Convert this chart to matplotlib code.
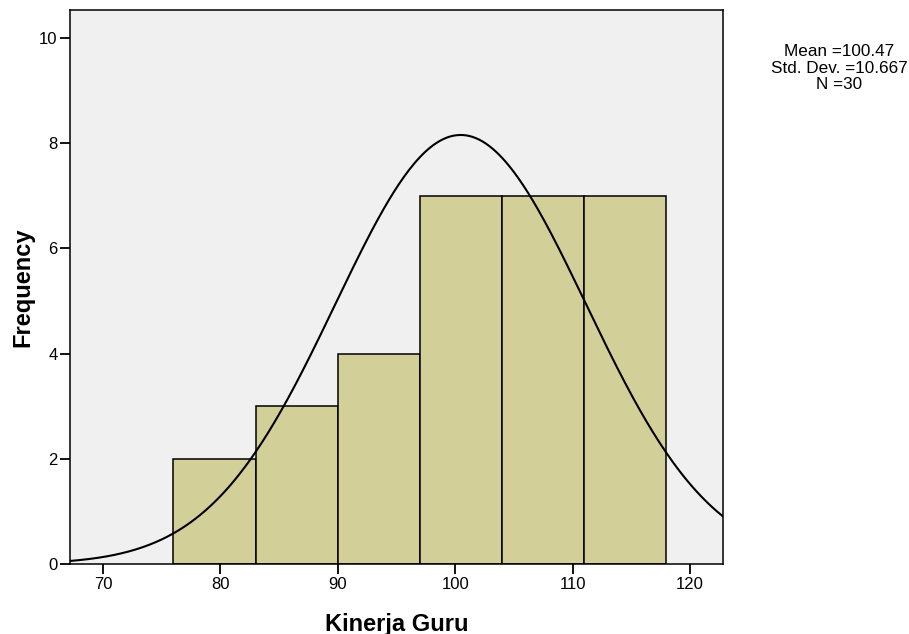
import numpy as np
import matplotlib as mpl

mpl.use("Agg")
import matplotlib.pyplot as plt

# --- data (SPSS-style histogram) ---
BIN_EDGES = [76, 83, 90, 97, 104, 111, 118]
COUNTS = [2, 3, 4, 7, 7, 7]
MEAN = 100.47
STD = 10.667
N = 30
CURVE_PEAK = 8.15  # height of the fitted normal curve as drawn

mpl.rcParams.update({
    "font.family": ["Liberation Sans", "DejaVu Sans"],
    "font.size": 12,
})

fig = plt.figure(figsize=(9.09, 6.34), dpi=100)
ax = fig.add_axes([0.077, 0.110, 0.7187, 0.874])
ax.set_facecolor("#f0f0f0")

lefts = BIN_EDGES[:-1]
widths = np.diff(BIN_EDGES)
ax.bar(lefts, COUNTS, width=widths, align="edge", color="#d3cf98",
       edgecolor="black", linewidth=1.1, zorder=2)

x = np.linspace(67.19, 122.84, 400)
y = CURVE_PEAK * np.exp(-0.5 * ((x - MEAN) / STD) ** 2)
ax.plot(x, y, color="black", linewidth=1.5, zorder=3)

ax.set_xlim(67.19, 122.84)
ax.set_ylim(0, 10.52)
ax.set_xticks([70, 80, 90, 100, 110, 120])
ax.set_yticks([0, 2, 4, 6, 8, 10])
ax.tick_params(direction="out", length=7, width=1.3, labelsize=12, pad=2)
for sp in ax.spines.values():
    sp.set_linewidth(1.1)
    sp.set_color("black")

ax.set_xlabel("Kinerja Guru", fontsize=17, fontweight="bold", labelpad=15)
ax.set_ylabel("Frequency", fontsize=17, fontweight="bold", labelpad=3)

fig.text(0.923, 0.8925, f"Mean ={MEAN:.2f}\nStd. Dev. ={STD:.3f}\nN ={N}",
         ha="center", va="center", fontsize=12.3, linespacing=1.15)

fig.savefig("out.png", dpi=100)
